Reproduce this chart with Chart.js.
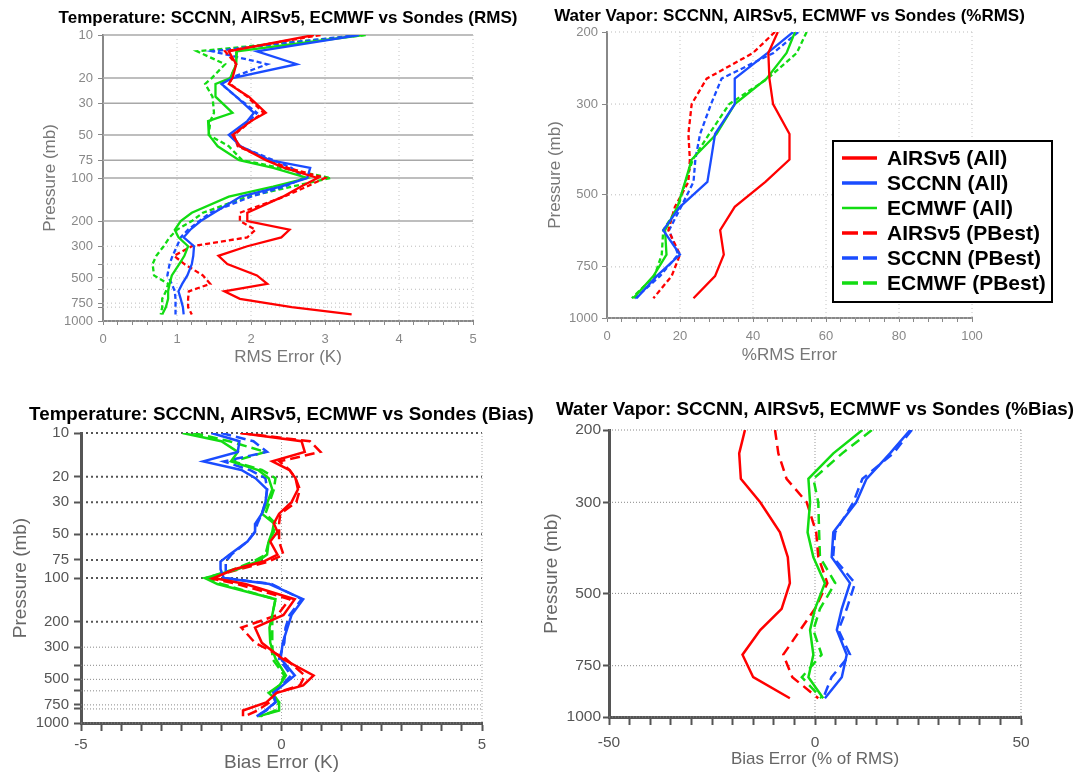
<!DOCTYPE html>
<html>
<head>
<meta charset="utf-8">
<script src="https://cdn.jsdelivr.net/npm/chart.js@4.4.1/dist/chart.umd.min.js"></script>
<style>
  body { margin: 0; background: #fff; width: 1089px; height: 773px; position: relative; overflow: hidden; }
  canvas { position: absolute; }
</style>
</head>
<body>
<canvas id="c1" width="540" height="380" style="left:0;top:0"></canvas>
<canvas id="c2" width="549" height="380" style="left:540px;top:0"></canvas>
<canvas id="c3" width="540" height="393" style="left:0;top:380px"></canvas>
<canvas id="c4" width="549" height="393" style="left:540px;top:380px"></canvas>
<script>
// ---- data ----
// temperature RMS (K) vs pressure (mb)
var rmsLev     = [10, 13, 16, 20, 22, 27, 35, 40, 50, 60, 75, 85, 100, 115, 135, 175, 200, 230, 260, 300, 350, 400, 480, 550, 620, 700, 800, 900];
var rmsAirsAll = [2.85, 1.7, 1.8, 1.75, 1.7, 1.97, 2.2, 2.0, 1.75, 1.85, 2.2, 2.45, 2.9, 2.67, 2.43, 1.95, 1.95, 2.52, 2.41, 1.95, 1.56, 1.68, 2.08, 2.22, 1.64, 1.85, 2.55, 3.36];
var rmsSccAll  = [3.46, 2.08, 2.62, 1.75, 1.6, 1.8, 2.04, 1.95, 1.7, 1.86, 2.25, 2.8, 2.76, 2.4, 1.86, 1.5, 1.32, 1.18, 1.09, 1.23, 1.22, 1.2, 1.14, 1.07, 1.02, 1.05, 1.08, 1.09];
var rmsEcAll   = [3.52, 1.81, 1.8, 1.72, 1.52, 1.52, 1.75, 1.42, 1.43, 1.55, 1.84, 2.3, 2.76, 2.3, 1.7, 1.2, 1.05, 0.97, 1.02, 1.15, 1.1, 1.03, 0.93, 0.9, 0.88, 0.88, 0.85, 0.8];
var rmsAirsPB  = [2.94, 1.65, 1.8, 1.72, 1.72, 1.95, 2.17, 2.0, 1.77, 1.82, 2.25, 2.5, 3.0, 2.75, 2.45, 1.85, 1.85, 2.06, 1.95, 1.2, 0.96, 1.1, 1.35, 1.45, 1.16, 1.15, 1.15, 1.2];
var rmsSccPB   = [3.45, 1.48, 2.22, 1.72, 1.6, 1.8, 2.08, 1.98, 1.75, 1.85, 2.3, 2.55, 2.71, 2.45, 2.0, 1.45, 1.3, 1.15, 1.05, 1.0, 0.94, 0.9, 0.87, 0.93, 0.97, 0.98, 0.98, 0.98];
var rmsEcPB    = [3.55, 1.27, 1.65, 1.47, 1.38, 1.48, 1.5, 1.45, 1.43, 1.7, 1.88, 2.4, 3.08, 2.55, 1.95, 1.35, 1.2, 1.0, 0.9, 0.82, 0.72, 0.67, 0.69, 0.88, 0.85, 0.8, 0.8, 0.78];

// water vapor %RMS vs pressure (mb)
var wvLev     = [200, 225, 260, 300, 355, 410, 465, 535, 610, 700, 790, 895];
var wvAirsAll = [46.8, 44.2, 44.5, 45.5, 50, 50, 43.4, 35, 31, 32, 29.6, 23.7];
var wvSccAll  = [51, 44, 35, 35, 29.6, 28.5, 27.5, 20, 15.4, 20, 13.6, 8.1];
var wvEcAll   = [51.5, 49.2, 43.7, 35, 30, 23.2, 21.4, 19.3, 15.9, 16.3, 12.7, 7.2];
var wvAirsPB  = [46, 40, 27.3, 23.2, 22.3, 22.7, 22.3, 18.6, 16.8, 20, 17.7, 12.7];
var wvSccPB   = [52.4, 45.6, 31.4, 28.5, 25.5, 24.2, 23.7, 20.3, 17, 19.5, 14.5, 7.7];
var wvEcPB    = [54.7, 52, 44, 33.5, 28, 23.5, 21.5, 19.5, 15.4, 15, 13, 6.8];

// temperature bias (K) vs pressure (mb)
var bLev     = [10, 11.4, 13.5, 15.7, 18, 20.5, 24.5, 30, 36, 42, 48, 56, 69, 77, 87, 100, 110, 140, 180, 220, 280, 360, 470, 550, 620, 720, 820, 900];
var bAirsAll = [-1.03, 0.5, 0.58, -0.23, 0.2, 0.35, 0.41, 0.25, -0.06, -0.19, -0.1, -0.28, -0.1, -0.45, -1.18, -1.69, -0.9, 0.33, 0.05, -0.66, -0.49, 0.02, 0.8, 0.54, -0.12, -0.38, -0.96, -0.96];
var bSccAll  = [-1.75, -1.05, -1.09, -1.95, -1.0, -0.65, -0.36, -0.4, -0.49, -0.65, -0.66, -0.85, -1.3, -1.52, -1.52, -1.44, -0.3, 0.54, 0.25, 0.15, 0.03, -0.02, 0.33, 0.03, -0.2, -0.15, -0.4, -0.62];
var bEcAll   = [-2.47, -1.5, -1.09, -1.26, -0.58, -0.32, -0.23, -0.35, -0.49, -0.19, -0.23, -0.32, -0.36, -0.6, -1.1, -1.91, -1.6, -0.15, -0.23, -0.3, -0.28, -0.15, 0.11, -0.05, -0.32, -0.06, -0.06, -0.58];
var bAirsPB  = [-1.0, 0.71, 0.97, -0.05, 0.2, 0.35, 0.46, 0.37, -0.03, -0.06, -0.06, -0.06, 0.05, -0.32, -1.05, -1.82, -1.1, 0.2, -0.1, -1.0, -0.66, 0.1, 0.58, 0.46, -0.15, -0.3, -0.6, -0.92];
var bSccPB   = [-1.5, -0.7, -0.36, -1.44, -0.79, -0.4, -0.36, -0.4, -0.49, -0.6, -0.66, -0.85, -1.25, -1.39, -1.39, -1.39, -0.25, 0.5, 0.2, 0.1, 0.07, -0.06, 0.24, 0.0, -0.23, -0.15, -0.38, -0.62];
var bEcPB    = [-2.2, -1.3, -0.4, -1.2, -0.49, -0.15, -0.19, -0.3, -0.4, -0.15, -0.19, -0.32, -0.4, -0.7, -1.18, -1.87, -1.5, -0.15, -0.23, -0.23, -0.23, -0.23, 0.07, -0.06, -0.23, -0.06, -0.15, -0.53];

// water vapor bias (% of RMS) vs pressure (mb)
var bwLev     = [200, 228, 263, 300, 355, 408, 472, 545, 614, 705, 800, 900];
var bwAirsAll = [-17, -18.4, -18, -13.3, -8.5, -6.6, -6.1, -8.1, -13.3, -17.6, -15, -6.1];
var bwSccAll  = [23.1, 18.2, 12.5, 10, 4.45, 4.05, 8.5, 6.5, 5.3, 7.7, 6.5, 2.4];
var bwEcAll   = [11.5, 4.45, -1.6, -1.2, -1.8, -0.4, 2.4, 0, -1.2, -0.4, -1.6, 2.0];
var bwAirsPB  = [-9.7, -8.9, -6.9, -2, 0.3, 0.8, 3.0, 0, -3.6, -7.7, -5.5, 0.8];
var bwSccPB   = [23.5, 19, 11.5, 9.3, 4.9, 4.4, 9.7, 7.7, 5.7, 8.5, 4.0, 2.0];
var bwEcPB    = [13.8, 6.6, -0.4, 0.8, 1.0, 1.2, 4.9, 1.2, -0.4, 1.6, -3.2, 1.6];

var seriesNames = ['AIRSv5 (All)', 'SCCNN (All)', 'ECMWF (All)', 'AIRSv5 (PBest)', 'SCCNN (PBest)', 'ECMWF (PBest)'];
var presLabels = [10, 20, 30, 50, 75, 100, 200, 300, 500, 750, 1000];
var presTicks = [10, 20, 30, 50, 75, 100, 200, 300, 400, 500, 600, 750, 800, 1000];
var wvLabels = [200, 300, 500, 750, 1000];

// ---- drawing ----
var FONT = "'Liberation Sans', Arial, Helvetica, sans-serif";
Chart.defaults.font.family = FONT;
var RED = '#ff0000', BLUE = '#1a4cff', GREEN = '#12dc12';
var colors = [RED, BLUE, GREEN, RED, BLUE, GREEN];

function pts(xs, ps) {
    return xs.map(function (v, i) { return { x: v, y: ps[i] }; });
}

function makeSets(list, ps, width, dash) {
    return list.map(function (xs, i) {
        return {
            label: seriesNames[i],
            data: pts(xs, ps),
            borderColor: colors[i],
            backgroundColor: colors[i],
            borderWidth: width,
            borderDash: i < 3 ? [] : dash,
            showLine: true,
            pointRadius: 0,
            tension: 0
        };
    });
}

function stepTicks(min, max, step) {
    var t = [];
    var n = Math.round((max - min) / step);
    for (var i = 0; i <= n; i++) t.push({ value: Math.round((min + i * step) * 1000) / 1000 });
    return t;
}

function isMult(v, m) {
    var r = v / m;
    return Math.abs(r - Math.round(r)) < 1e-6;
}

// grid lines with their own dash per group
var refGrid = {
    id: 'refGrid',
    beforeDatasetsDraw: function (chart, args, opts) {
        var ctx = chart.ctx, a = chart.chartArea;
        (opts.lines || []).forEach(function (g) {
            var sc = chart.scales[g.axis];
            ctx.save();
            ctx.strokeStyle = g.color;
            ctx.lineWidth = g.width;
            ctx.setLineDash(g.dash || []);
            g.values.forEach(function (v) {
                var p = sc.getPixelForValue(v);
                ctx.beginPath();
                if (g.axis === 'y') { ctx.moveTo(a.left, p); ctx.lineTo(a.right, p); }
                else { ctx.moveTo(p, a.top); ctx.lineTo(p, a.bottom); }
                ctx.stroke();
            });
            ctx.restore();
        });
    }
};

// panel title, centred over the plot area and allowed to run wider than it
var topTitle = {
    id: 'topTitle',
    afterDraw: function (chart, args, o) {
        var a = chart.chartArea, ctx = chart.ctx;
        ctx.save();
        ctx.font = 'bold ' + o.size + 'px ' + FONT;
        ctx.fillStyle = '#000';
        ctx.textAlign = 'center';
        ctx.textBaseline = 'middle';
        ctx.fillText(o.text, (a.left + a.right) / 2, o.y);
        ctx.restore();
    }
};

// boxed legend placed inside the water vapor RMS panel
var boxLegend = {
    id: 'boxLegend',
    afterDraw: function (chart, args, o) {
        if (!o.show) return;
        var ctx = chart.ctx;
        ctx.save();
        ctx.fillStyle = '#fff';
        ctx.fillRect(o.x, o.y, o.w, o.h);
        ctx.strokeStyle = '#000';
        ctx.lineWidth = 2;
        ctx.strokeRect(o.x, o.y, o.w, o.h);
        ctx.font = 'bold 21px ' + FONT;
        ctx.textBaseline = 'middle';
        chart.data.datasets.forEach(function (d, i) {
            var y = o.y + o.first + i * o.gap;
            ctx.strokeStyle = d.borderColor;
            ctx.lineWidth = o.widths[i];
            ctx.setLineDash(d.borderDash.length ? [16, 5] : []);
            ctx.beginPath();
            ctx.moveTo(o.x + 9, y);
            ctx.lineTo(o.x + 44, y);
            ctx.stroke();
            ctx.fillStyle = '#000';
            ctx.fillText(d.label, o.x + 54, y + 1);
        });
        ctx.restore();
    }
};

function panel(id, o) {
    new Chart(document.getElementById(id), {
        type: 'scatter',
        data: { datasets: o.sets },
        plugins: [refGrid, topTitle, boxLegend],
        options: {
            responsive: false,
            animation: false,
            events: [],
            layout: { padding: { left: 0, right: o.padRight, top: o.padTop, bottom: 0 } },
            plugins: {
                legend: { display: false },
                tooltip: { enabled: false },
                title: { display: false },
                topTitle: { text: o.title, size: o.titleSize, y: o.titleY },
                refGrid: { lines: o.grid },
                boxLegend: o.legend || { show: false }
            },
            scales: {
                x: {
                    type: 'linear', min: o.xMin, max: o.xMax,
                    afterFit: function (s) { s.height = o.xH; },
                    afterBuildTicks: function (s) { s.ticks = stepTicks(o.xMin, o.xMax, o.xStep); },
                    ticks: {
                        autoSkip: false, maxRotation: 0, padding: o.xPad,
                        color: o.labColor, font: { size: o.labSize },
                        callback: function (v) { return isMult(v, o.xMajor) ? String(v) : ''; }
                    },
                    grid: { drawOnChartArea: false, tickLength: o.xTick, tickColor: o.axisColor, tickWidth: o.tickW },
                    border: { color: o.axisColor, width: o.axisW },
                    title: {
                        display: true, text: o.xTitle, color: o.titColor,
                        font: { size: o.xTitleSize }, padding: { top: 0, bottom: o.xTitlePad }
                    }
                },
                y: {
                    type: 'logarithmic', reverse: true, min: o.yMin, max: 1000,
                    afterFit: function (s) { s.width = o.yW; },
                    afterBuildTicks: function (s) {
                        s.ticks = o.yTicks.map(function (v) { return { value: v }; });
                    },
                    ticks: {
                        autoSkip: false, padding: o.yPad,
                        color: o.labColor, font: { size: o.labSize },
                        callback: function (v) { return o.yLabels.indexOf(v) >= 0 ? String(v) : ''; }
                    },
                    grid: { drawOnChartArea: false, tickLength: o.yTick, tickColor: o.axisColor, tickWidth: o.tickW },
                    border: { color: o.axisColor, width: o.axisW },
                    title: {
                        display: true, text: 'Pressure (mb)', color: o.titColor,
                        font: { size: o.yTitleSize }, padding: { top: o.yTitlePad, bottom: 0 }
                    }
                }
            }
        }
    });
}

// top left: temperature RMS
panel('c1', {
    sets: makeSets([rmsAirsAll, rmsSccAll, rmsEcAll, rmsAirsPB, rmsSccPB, rmsEcPB], rmsLev, 2.3, [5, 3]),
    title: 'Temperature: SCCNN, AIRSv5, ECMWF vs Sondes (RMS)', titleSize: 17, titleY: 18,
    padRight: 67, padTop: 35,
    xMin: 0, xMax: 5, xStep: 0.2, xMajor: 1, xH: 59, xTick: 4, xPad: 7,
    xTitle: 'RMS Error (K)', xTitleSize: 17, xTitlePad: 12,
    yMin: 10, yTicks: presTicks, yLabels: presLabels, yW: 103, yTick: 5, yPad: 5,
    yTitleSize: 17, yTitlePad: 40,
    labColor: '#888', labSize: 13, titColor: '#777', axisColor: '#888', axisW: 2, tickW: 1,
    grid: [
        { axis: 'y', values: [10, 20, 30, 50, 75, 100, 200], color: '#a8a8a8', width: 1.5 },
        { axis: 'y', values: [300, 400, 500, 600, 750, 800, 1000], color: '#bbb', width: 1, dash: [1, 3] },
        { axis: 'x', values: [1, 2, 3, 4, 5], color: '#c4c4c4', width: 1, dash: [1, 3] }
    ]
});

// top right: water vapor %RMS
panel('c2', {
    sets: makeSets([wvAirsAll, wvSccAll, wvEcAll, wvAirsPB, wvSccPB, wvEcPB], wvLev, 2.3, [5, 3]),
    title: 'Water Vapor: SCCNN, AIRSv5, ECMWF vs Sondes (%RMS)', titleSize: 17, titleY: 16,
    padRight: 117, padTop: 32,
    xMin: 0, xMax: 100, xStep: 4, xMajor: 20, xH: 62, xTick: 4, xPad: 7,
    xTitle: '%RMS Error', xTitleSize: 17, xTitlePad: 14,
    yMin: 200, yTicks: wvLabels, yLabels: wvLabels, yW: 67, yTick: 5, yPad: 4,
    yTitleSize: 17, yTitlePad: 5,
    labColor: '#888', labSize: 13, titColor: '#777', axisColor: '#888', axisW: 2, tickW: 1,
    grid: [
        { axis: 'y', values: [200, 300, 500, 750, 1000], color: '#bbb', width: 1, dash: [1, 3] },
        { axis: 'x', values: [20, 40, 60, 80, 100], color: '#c4c4c4', width: 1, dash: [1, 3] }
    ],
    legend: { show: true, x: 293, y: 141, w: 219, h: 161, first: 17, gap: 25, widths: [3.5, 3.5, 2.5, 3.5, 3.5, 3.5] }
});

// bottom left: temperature bias
panel('c3', {
    sets: makeSets([bAirsAll, bSccAll, bEcAll, bAirsPB, bSccPB, bEcPB], bLev, 2.5, [10, 5]),
    title: 'Temperature: SCCNN, AIRSv5, ECMWF vs Sondes (Bias)', titleSize: 18.8, titleY: 35,
    padRight: 58, padTop: 53,
    xMin: -5, xMax: 5, xStep: 0.5, xMajor: 5, xH: 50, xTick: 8, xPad: 5,
    xTitle: 'Bias Error (K)', xTitleSize: 19, xTitlePad: -1,
    yMin: 10, yTicks: presTicks, yLabels: presLabels, yW: 81, yTick: 7, yPad: 5,
    yTitleSize: 19, yTitlePad: 9.6,
    labColor: '#555', labSize: 15, titColor: '#666', axisColor: '#555', axisW: 3, tickW: 2,
    grid: [
        { axis: 'y', values: [10, 20, 30, 50, 75, 100, 200], color: '#555', width: 2, dash: [2, 3] },
        { axis: 'y', values: [300, 400, 500, 600, 750, 800, 1000], color: '#888', width: 1, dash: [1, 2] },
        { axis: 'x', values: [0, 5], color: '#aaa', width: 1, dash: [1, 2] }
    ]
});

// bottom right: water vapor %bias
panel('c4', {
    sets: makeSets([bwAirsAll, bwSccAll, bwEcAll, bwAirsPB, bwSccPB, bwEcPB], bwLev, 2.5, [10, 6]),
    title: 'Water Vapor: SCCNN, AIRSv5, ECMWF vs Sondes (%Bias)', titleSize: 18.8, titleY: 30,
    padRight: 68, padTop: 50,
    xMin: -50, xMax: 50, xStep: 5, xMajor: 50, xH: 56, xTick: 8, xPad: 8,
    xTitle: 'Bias Error (% of RMS)', xTitleSize: 17, xTitlePad: 3,
    yMin: 200, yTicks: wvLabels, yLabels: wvLabels, yW: 69, yTick: 6, yPad: 2,
    yTitleSize: 19, yTitlePad: 0,
    labColor: '#555', labSize: 15.5, titColor: '#666', axisColor: '#555', axisW: 3, tickW: 2,
    grid: [
        { axis: 'y', values: [200, 300, 500, 750, 1000], color: '#888', width: 1, dash: [1, 2] },
        { axis: 'x', values: [0, 50], color: '#999', width: 1, dash: [1, 2] }
    ]
});
</script>
</body>
</html>
